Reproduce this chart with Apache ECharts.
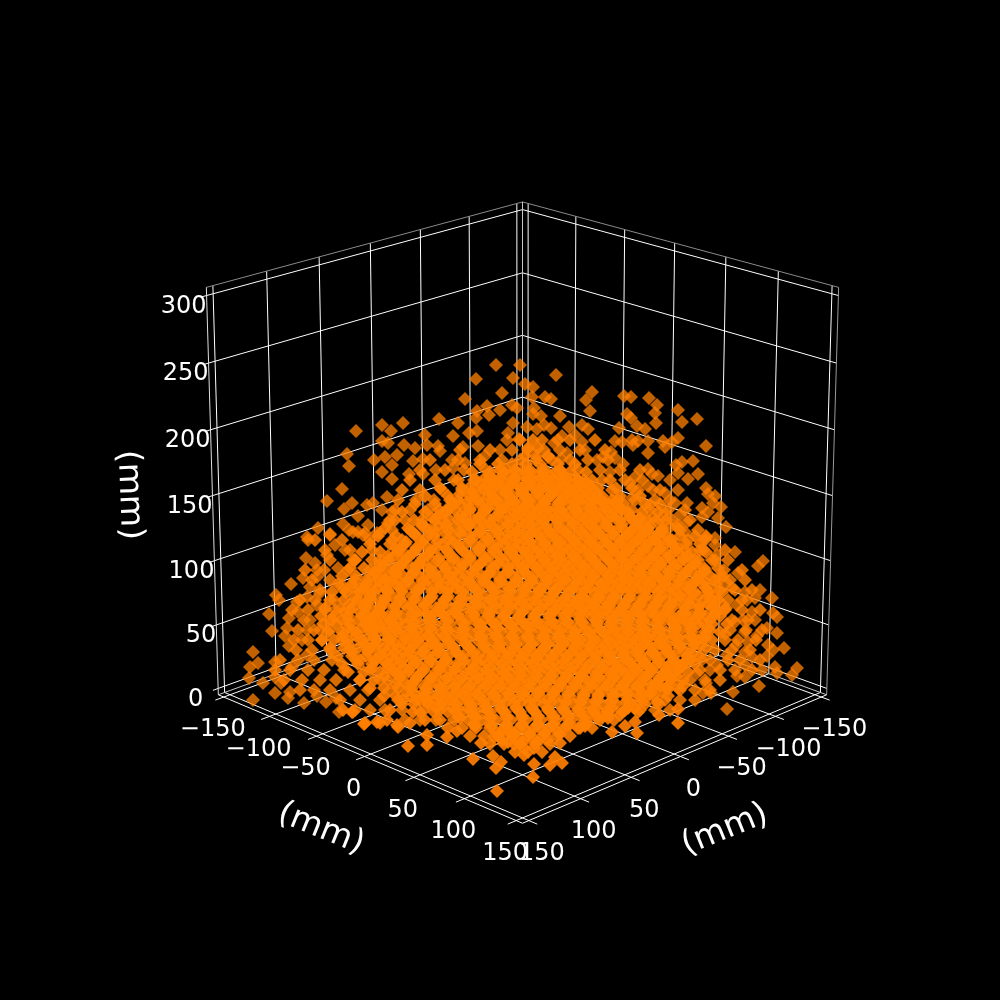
<!DOCTYPE html>
<html><head><meta charset="utf-8">
<style>html,body{margin:0;padding:0;background:#000}#c{width:1000px;height:1000px}</style>
<script src="https://cdn.jsdelivr.net/npm/echarts@6/dist/echarts.min.js"></script>
</head><body><div id="c"></div>
<script>
// Tick values (mm)
const horizontalTicks = [-150,-100,-50,0,50,100,150];
const heightTicks = [0,50,100,150,200,250,300];
const axisTitle = '(mm)';
// Points, in the view plane: [across, up] (mm, across = y - x)
const farPoints = [[-164,269],[-138,275],[-129,269],[-138,259],[-132,257],[-173,246],[-171,234],[-146,240],[-135,243],[-128,235],[-123,245],[-138,228],[-128,221],[-178,211],[-193,199],[-168,197],[-176,191],[-153,195],[-147,197],[-133,203],[-138,190],[-128,188],[-162,184],[-202,172],[-177,176],[-171,170],[-152,175],[-190,166],[-213,163],[-162,168],[-157,165],[-143,167],[-132,177],
[-24,335],[0,335],[-44,321],[-7,322],[36,325],[5,316],[13,313],[-18,307],[-55,301],[72,308],[66,300],[12,303],[25,303],[31,301],[70,289],[-33,294],[-43,289],[-20,290],[-8,295],[-3,292],[14,292],[-31,285],[-44,282],[13,286],[21,284],[40,284],[-81,281],[-117,277],[-62,277],[-7,277],[7,273],[17,271],[31,272],[49,273],[24,275],[62,275],[68,271],[-43,269],[-51,267],[-67,264],[-12,267],[-95,265],[-13,260],[-1,261],[42,264],[55,265],[34,257],[62,258],[-93,255],[-82,254],[-57,253],[-116,255],[-42,254],[-20,250],[-105,252],[47,247],[65,250],[-80,249],[-35,244],[41,241],[-68,240],[-107,239],[-97,241],[-84,230],[-111,226],[-97,226],[-67,232],[-55,237],[28,243],[77,240],
[104,304],[111,303],[129,302],[137,295],[135,287],[158,290],[107,286],[111,282],[162,278],[177,281],[136,277],[117,274],[125,271],[99,272],[95,259],[102,258],[112,260],[113,255],[118,259],[128,259],[158,262],[143,259],[145,253],[152,258],[186,254],[128,247],[91,248],[83,243],[95,242],[103,236],[162,238],[173,239],[156,235],[128,231],[132,226],[138,224],[178,226],[158,227],[168,221],[150,220],[115,223],[90,228],[110,217],[128,214],[186,212],[133,210],[158,210],[195,204],[188,206],[145,207],[167,197],[201,193],[155,197],[193,197],[182,192],[188,188],[182,183],[130,195],[145,187],[112,202],[160,185],[198,182],[167,178],[140,180],[158,175],[165,168],[206,173],[150,173],[186,164],[195,162],[140,163],[125,175],[133,182],
[-212,160],[-190,165],[-185,155],[-214,142],[-229,116],[-217,122],[-244,105],[-241,100],[-251,86],[-248,69],[-231,82],[-222,88],[-223,98],[-210,113],[-203,123],[-205,137],[-193,145],[-235,64],[-233,72],[-231,54],[-267,48],[-270,33],[-262,37],[-271,22],[-257,17],[-245,38],[-245,23],[-239,17],[-245,7],[-230,8],[-232,2],[-267,0],[-216,-3],[-203,4],[-194,-2],[-184,2],[-181,-12],[-167,-12],[-213,45],[-210,80],[-218,60],[-228,33],[-213,70],[-200,70],[-182,132],[-175,150],[-203,130],[-168,113],[-178,115],[-213,103],[-200,107],[-203,95],[-190,80],[-185,90],[-167,140],[-155,167],[-167,168],[-140,167],
[215,148],[243,139],[238,134],[218,127],[186,163],[195,155],[197,145],[183,150],[240,110],[252,102],[225,108],[235,102],[227,100],[217,95],[232,88],[253,87],[257,83],[215,78],[223,80],[235,80],[225,68],[237,64],[247,72],[257,67],[205,66],[228,58],[216,55],[248,55],[264,52],[253,50],[225,48],[232,43],[247,44],[277,32],[272,25],[255,33],[257,27],[225,35],[242,30],[217,24],[225,23],[239,14],[213,8],[207,-9],[186,17],[183,7],[191,7],[207,45],[200,98],[207,117],[212,112],[200,123],[177,27],[190,30],[197,35],[182,40]];
const nearPoints = [[-112,-46],[-93,-45],[-47,-59],[-23,-91],[-27,-56],[-19,-62],[-24,-68],[-6,-44],[-39,-43],[-26,-37],[-10,-33],[4,-55],[14,-64],[13,-77],[-73,-37],[-63,-31],[-93,-35],[-122,-27],[-156,-24],[-140,-23],[-168,-12],[-177,-10],[30,-65],[42,-63],[35,-57],[92,-32],[117,-33],[105,-26],[115,-22],[158,-23],[158,-9],[139,-15],[137,-2],[40,-43],[60,-28],[115,-8],[100,-15],[148,11],[163,14],[87,-15],[-155,-23],[-143,-22],[-130,-10],[-117,0],[-107,-12],[-123,-25],[-133,-20],[-110,-23]];
// Outer band of the cloud, estimated row by row
const bandUp = [260,250,240,230,220,210,200,190,180,170,160,150,140,130,120,110,100,90,80,70,60,50,40,30,20,10,0,-10,-20];
const bandAcross = [
[0,22,38,50,75],
[-60,-30,-8,8,24,40,60,85],
[-90,-62,-40,-18,0,16,32,50,68,88],
[-100,-75,-56,-34,-14,4,22,40,58,80,100,120],
[-110,-85,-66,-46,-26,-8,10,28,46,64,82,105,122],
[-118,-100,-78,-58,-36,-18,2,20,38,56,74,92,118,140],
[-122,-104,-86,-70,-48,-28,-10,8,26,44,62,80,98,115,135,150],
[-125,-110,-92,-74,-54,-36,-18,2,20,38,56,74,94,112,130,148,165],
[-130,-115,-98,-78,-58,-40,118,136,152,170],
[-128,-110,-90,-72,125,142,160,178],
[-205,-178,-150,-128,150,168,185],
[-195,-170,-148,-122,165,180,205],
[-190,-165,-140,-118,175,195,208],
[-215,-196,-172,-150,-126,185,204,222],
[-208,-190,-165,-140,-122,195,210,225],
[-200,-176,-155,-132,200,215,232],
[-220,-205,-186,-160,-140,208,222],
[-228,-212,-195,-170,-148,205,222,240],
[-216,-188,-172,-152,-130,212,228],
[-222,-206,-190,-168,-146,210,226,242],
[-226,-212,-198,-178,-156,-132,205,218,236],
[-224,-208,-190,-170,-152,195,212,230],
[-240,-222,-206,-188,-164,-146,190,208,220,240],
[-245,-230,-212,-196,-176,-150,180,200,215,232],
[-236,-218,-200,-184,-160,-140,170,185,200],
[-220,-206,-190,-170,-152,-130,160,175,190],
[-180,-160,-140,-122,-104,145,160,175],
[-165,-150,-135,-118,-96,120,135,150],
[-115,-100,-84]];
// Dense middle of the cloud, estimated row by row
const coreUp = [260,252,244,236,228,220,212,204,196,188,180,172,164,156,148,140,132,124,116,108,100,92,84,76,68,60,52,44,36,28,20,12,4,-4,-12,-20,-28,-36,-44,-52];
const coreAcross = [
[13],[8,18],[5,16,28],
[-40,-22,-8,6,20,38,55],
[-48,-30,-16,-3,10,23,36,50,66],
[-62,-44,-31,-19,-6,7,19,32,44,58,72,90],
[-80,-58,-37,-25,-12,1,13,26,38,50,63,78,96,112],
[-95,-72,-50,-32,-19,-7,6,19,31,44,56,69,82,100,120],
[-105,-85,-60,-40,-26,-13,0,13,25,38,50,62,75,88,104,125,140],
[-118,-95,-74,-52,-36,-20,-7,6,18,31,43,56,68,81,94,108,122,138],
[-125,-106,-85,-62,-46,-30,-14,-1,12,24,37,49,62,74,87,100,113,127,146],
[-135,-112,-94,-74,-56,-40,-26,-12,1,14,26,39,51,64,76,89,102,115,128,142,158],
[-142,-124,-104,-86,-68,-50,-35,-20,-6,7,20,32,45,57,70,82,95,108,120,133,146,160,175],
[-150,-130,-115,-96,-78,-62,-46,-30,-15,-1,12,25,38,50,63,75,88,101,113,126,139,152,166,180],
[-158,-140,-122,-106,-90,-72,-56,-40,-24,-9,5,18,31,43,56,69,81,94,107,119,132,145,158,172,186],
[-165,-148,-132,-115,-98,-82,-66,-50,-34,-18,-3,11,24,37,50,62,75,88,100,113,126,138,151,164,178,192],
[-170,-156,-140,-124,-108,-92,-75,-60,-44,-28,-12,3,17,30,43,56,68,81,94,106,119,132,144,157,170,184,198],
[-178,-164,-148,-132,-117,-101,-85,-70,-54,-38,-22,-7,8,23,36,49,62,74,87,100,112,125,138,150,163,176,190,203],
[-182,-168,-154,-138,-124,-110,-94,-79,-63,-48,-32,-16,-1,14,29,43,56,68,81,93,106,119,131,144,157,169,182,196],
[-188,-174,-160,-146,-132,-118,-103,-88,-73,-58,-42,-26,-10,5,20,35,49,62,75,87,100,112,125,138,150,163,175,188,202],
[-190,-176,-163,-149,-135,-120,-106,-91,-76,-61,-46,-30,-15,0,15,30,44,57,70,83,95,108,120,133,146,158,171,184,198],
[-195,-180,-168,-154,-140,-126,-112,-98,-84,-69,-54,-38,-23,-8,7,22,37,51,64,77,89,102,114,127,140,152,165,178,192,206],
[-199,-186,-172,-158,-146,-132,-118,-104,-90,-76,-62,-46,-31,-16,-1,14,29,44,58,71,83,96,108,121,134,146,159,172,186,200],
[-197,-183,-170,-155,-141,-127,-113,-99,-85,-70,-55,-40,-25,-10,5,20,35,50,64,77,90,102,115,127,140,153,165,178,192,207],
[-192,-178,-164,-150,-136,-122,-108,-94,-79,-64,-49,-34,-19,-4,11,26,41,55,69,83,96,108,121,133,146,159,172,185,200],
[-198,-186,-172,-158,-144,-130,-116,-102,-88,-73,-58,-43,-28,-13,2,17,32,47,61,75,89,102,115,127,140,152,165,178,192],
[-190,-176,-162,-150,-136,-122,-108,-94,-80,-66,-51,-36,-21,-6,9,24,39,54,68,82,95,108,121,134,146,159,172,186],
[-183,-168,-154,-140,-128,-114,-100,-86,-72,-57,-42,-27,-12,3,18,33,48,62,76,90,103,116,129,142,154,167,180],
[-178,-162,-148,-133,-120,-106,-92,-78,-63,-48,-33,-18,-3,12,27,42,56,70,84,98,111,124,137,150,163,175],
[-172,-156,-140,-126,-112,-98,-84,-70,-55,-40,-25,-10,5,20,35,50,64,78,92,105,118,131,144,156,168],
[-160,-146,-132,-118,-104,-90,-76,-61,-46,-31,-16,-1,14,29,44,58,72,86,100,113,126,139,151,163],
[-150,-136,-122,-108,-94,-80,-66,-52,-37,-22,-7,8,23,38,52,66,80,94,107,120,133,146,158],
[-136,-124,-110,-96,-82,-68,-54,-40,-25,-10,5,20,35,50,64,78,92,106,120,134,148],
[-118,-106,-92,-78,-64,-50,-36,-21,-6,9,24,39,54,68,82,96,110,125,139],
[-100,-86,-72,-58,-44,-30,-15,0,15,30,45,60,74,88,102,118],
[-95,-80,-66,-52,-38,-24,-9,6,21,36,51,66,80,94],
[-72,-58,-44,-30,-16,-1,14,29,44,58,72],
[-50,-36,-22,-8,7,22,37,50],
[-30,-16,0,15,30],
[-5,8,22]];
const fillUp = [224,216,208,200,192,184,176,168,160,152,144,136,128,120,112,104,96,88,80,72,64,56,48,40,32,24,16,8,0,-8,-16,-24,-32,-40,-48];
const fillAcross = [
[-30,-12,4,18,31,44],
[-40,-24,-9,7,24,38,51,66],
[-48,-30,-14,2,19,34,50,68],
[-62,-42,-24,-8,9,26,42,58,74,92],
[-70,-50,-32,-14,3,20,36,53,69,85,100],
[-82,-60,-40,-22,-4,12,28,44,60,76,92,110],
[-98,-74,-50,-30,-12,5,21,37,53,70,86,102,118],
[-108,-84,-60,-40,-22,-4,13,29,45,62,78,94,110,126,142],
[-118,-96,-72,-50,-32,-13,4,21,37,54,70,86,102,118,134,152],
[-124,-104,-84,-60,-40,-22,-5,12,28,44,60,76,92,108,124,140,158],
[-132,-112,-92,-70,-50,-30,-12,5,21,37,53,70,86,102,118,134,150,168],
[-140,-118,-100,-78,-58,-40,-22,-4,12,28,44,60,76,92,108,124,140,158,176],
[-146,-126,-106,-86,-66,-48,-30,-12,5,21,37,53,69,85,101,117,133,149,166,184],
[-154,-134,-112,-92,-72,-56,-38,-20,-3,13,29,45,61,77,93,109,125,141,158,176],
[-160,-142,-120,-100,-80,-64,-46,-28,-10,6,22,38,54,70,86,102,118,134,150,168,186],
[-166,-150,-128,-108,-88,-72,-54,-36,-18,-2,14,30,46,62,78,94,110,126,142,160,178,194],
[-170,-154,-136,-116,-96,-78,-60,-42,-24,-8,8,24,40,56,72,88,104,120,136,152,170,188],
[-176,-160,-142,-124,-104,-84,-66,-48,-30,-14,2,18,34,50,66,82,98,114,130,146,164,180,196],
[-178,-162,-148,-130,-110,-90,-72,-54,-36,-20,-4,12,28,44,60,76,92,108,124,140,158,174,190],
[-172,-158,-144,-126,-108,-90,-74,-56,-38,-22,-6,10,26,42,58,74,90,106,122,138,156,172,188],
[-178,-164,-146,-128,-110,-92,-76,-58,-40,-24,-8,8,24,40,56,72,88,104,120,136,154,170,184],
[-172,-156,-142,-124,-106,-88,-72,-54,-36,-20,-4,12,28,44,60,76,92,108,124,140,158,174],
[-168,-152,-134,-116,-98,-82,-64,-46,-28,-12,4,20,36,52,68,84,100,116,132,148,164],
[-160,-144,-126,-108,-90,-74,-56,-38,-22,-6,10,26,42,58,74,90,106,122,138,154,170],
[-148,-132,-116,-98,-80,-64,-46,-30,-14,2,18,34,50,66,82,98,114,130,146,160],
[-136,-120,-102,-84,-68,-50,-34,-18,-2,14,30,46,62,78,94,110,126,142,156],
[-124,-108,-90,-72,-56,-40,-24,-8,8,24,40,56,72,88,104,120,136,150],
[-114,-96,-78,-62,-46,-30,-14,2,18,34,50,66,82,98,114,130,142],
[-100,-84,-68,-52,-36,-20,-4,12,28,44,60,76,92,108,124],
[-84,-68,-52,-36,-20,-4,12,28,44,60,76,92,108],
[-62,-46,-30,-14,2,18,34,50,66,82],
[-46,-30,-14,2,18,34,50,66],
[-24,-8,8,24,38],
[-18,-2,14,28],
[4,14]];
const innerUp = [230,222,214,206,198,190,182,174,166,158,150,142,134,126,118,110,102,94,86,78,70,62,54,46,38,30,22,14,6,-2,-10,-18,-26,-34,-42];
const innerAcross = [
[-20,-5,10,25,40],
[-35,-20,-5,11,26,41,56],
[-49,-33,-17,-2,13,28,43,58,70],
[-60,-44,-29,-13,2,17,32,47,62,77],
[-68,-53,-37,-22,-6,9,24,39,54,69,84,95],
[-81,-65,-50,-34,-19,-3,12,27,42,57,72,87,102],
[-88,-72,-57,-41,-26,-10,5,20,35,50,65,80,95,110,120],
[-98,-82,-66,-51,-35,-20,-4,11,26,41,56,71,86,101,116,130],
[-105,-90,-74,-59,-43,-28,-12,3,18,33,48,63,78,93,108,123,138],
[-114,-98,-83,-67,-52,-36,-21,-5,10,25,40,55,70,85,100,115,130,148],
[-120,-104,-89,-73,-58,-42,-27,-11,4,19,34,49,64,79,94,109,124,139,156],
[-128,-112,-97,-81,-66,-50,-35,-19,-4,11,26,41,56,71,86,101,116,131,146,164],
[-135,-119,-104,-88,-73,-57,-42,-26,-11,4,19,34,49,64,79,94,109,124,139,154,172],
[-140,-124,-108,-93,-77,-62,-46,-31,-15,0,15,30,45,60,75,90,105,120,135,150,165,180],
[-145,-129,-113,-98,-82,-67,-51,-36,-20,-5,10,25,40,55,70,85,100,115,130,145,160,175,185],
[-150,-134,-118,-103,-87,-72,-56,-41,-25,-10,5,20,35,50,65,80,95,110,125,140,155,170,188],
[-150,-135,-120,-104,-89,-73,-58,-42,-27,-11,4,19,34,49,64,79,94,109,124,139,154,169,190],
[-156,-140,-125,-109,-94,-78,-63,-47,-32,-16,-1,14,29,44,59,74,89,104,119,134,149,164,179,193],
[-155,-139,-124,-108,-93,-77,-62,-46,-31,-15,0,15,30,45,60,75,90,105,120,135,150,165,180,195],
[-152,-137,-121,-106,-90,-75,-59,-44,-28,-13,2,17,32,47,62,77,92,107,122,137,152,167,182],
[-150,-134,-119,-103,-88,-72,-57,-41,-26,-10,5,20,35,50,65,80,95,110,125,140,155,170,190],
[-146,-131,-115,-100,-84,-69,-53,-38,-22,-7,8,23,38,53,68,83,98,113,128,143,158,173,185],
[-145,-129,-114,-98,-83,-67,-52,-36,-21,-5,10,25,40,55,70,85,100,115,130,145,160,180],
[-140,-124,-109,-93,-78,-62,-47,-31,-16,0,15,30,45,60,75,90,105,120,135,150,172],
[-135,-119,-104,-88,-73,-57,-42,-26,-11,4,19,34,49,64,79,94,109,124,139,154,165],
[-127,-111,-96,-80,-65,-49,-34,-18,-3,12,27,42,57,72,87,102,117,132,147,158],
[-120,-104,-89,-73,-58,-42,-27,-11,4,19,34,49,64,79,94,109,124,139,150],
[-112,-96,-81,-65,-50,-34,-19,-3,12,27,42,57,72,87,102,117,132,140],
[-105,-89,-74,-58,-43,-27,-12,3,18,33,48,63,78,93,108,123,130],
[-92,-76,-61,-45,-30,-14,1,16,31,46,61,76,91,106,118],
[-80,-64,-49,-33,-18,-2,13,28,43,58,73,88,105],
[-60,-44,-29,-13,2,17,32,47,62,77,88],
[-45,-29,-14,2,17,32,47,65],
[-20,-5,10,25,40],
[-12,3,18]];
// View of the box (as matplotlib's 3D axes)
const elevation = 20, azimuth = 45, viewDistance = 10;
const horizLimit = 156, heightMin = -5, heightMax = 306;
const scaleView = 3835, centerAcross = 2.5, centerUp = 205;
const zeroLabelGap = -15;

const B = [1.1433, 1.1433, 1.13];
const el = elevation*Math.PI/180, az = azimuth*Math.PI/180;
const n = [Math.cos(el)*Math.cos(az), Math.cos(el)*Math.sin(az), Math.sin(el)];
const uv = [-Math.sin(az), Math.cos(az), 0];
const vv = [n[1]*uv[2]-n[2]*uv[1], n[2]*uv[0]-n[0]*uv[2], n[0]*uv[1]-n[1]*uv[0]];
const dot = (a,b)=>a[0]*b[0]+a[1]*b[1]+a[2]*b[2];
function project(x,y,z){
  const p = [(x+horizLimit)/(2*horizLimit)*B[0]-B[0]/2, (y+horizLimit)/(2*horizLimit)*B[1]-B[1]/2, (z-heightMin)/(heightMax-heightMin)*B[2]-B[2]/2];
  const r = [p[0]-viewDistance*n[0], p[1]-viewDistance*n[1], p[2]-viewDistance*n[2]];
  const d = -dot(r,n);
  return [centerAcross + scaleView*dot(r,uv)/d, centerUp + scaleView*dot(r,vv)/d];
}
const L = horizLimit, Z0 = heightMin, Z1 = heightMax;
const polyline = (pts,color,w,z)=>({type:'line',data:pts.map(p=>project(...p)),symbol:'none',silent:true,animation:false,clip:false,z:z||1,
  lineStyle:{color,width:w}});
const series = [];
// grid
horizontalTicks.forEach(t=>{
  series.push(polyline([[L+8,t,Z0],[-L,t,Z0],[-L,t,Z1]],'#ffffff',1));      // y grid: floor then right wall
  series.push(polyline([[t,L+8,Z0],[t,-L,Z0],[t,-L,Z1]],'#ffffff',1));      // x grid: floor then left wall
});
heightTicks.forEach(t=>series.push(polyline([[L+5,-L,t],[-L,-L,t],[-L,L,t]],'#ffffff',1)));
// pane edges and axis lines
series.push(polyline([[L,-L,Z1],[-L,-L,Z1],[-L,L,Z1]],'#8a8a8a',1));
series.push(polyline([[-L,-L,Z0],[-L,-L,Z1]],'#c8c8c8',1));
series.push(polyline([[L,-L,Z0],[L,-L,Z1]],'#e0e0e0',1));
series.push(polyline([[-L,L,Z0],[-L,L,Z1]],'#9a9a9a',1));
series.push(polyline([[L,-L,Z0],[L,L,Z0],[-L,L,Z0]],'#ffffff',1));
series.push(polyline([[L,-L,Z0],[-L,-L,Z0],[-L,L,Z0]],'#c8c8c8',1));
// points
const rowsToPoints = list=>{const out=[];list.forEach(([ups,rows])=>ups.forEach((u,i)=>rows[i].forEach(a=>out.push([a,u]))));return out;};
const coreData = rowsToPoints([[coreUp,coreAcross],[fillUp,fillAcross],[innerUp,innerAcross]]);
const bandData = rowsToPoints([[bandUp,bandAcross]]);
const pts = (data,op,z)=>({type:'scatter',data,symbol:'diamond',symbolSize:14,silent:true,animation:false,progressive:0,z,
  itemStyle:{color:'#ff7f00',opacity:op}});
series.push(pts(farPoints,0.76,5), pts(bandData,0.84,5), pts(coreData,0.9,6), pts(nearPoints,0.92,7));
// text
const text = (items)=>({type:'scatter',symbolSize:1,silent:true,animation:false,z:10,clip:false,
  itemStyle:{color:'rgba(0,0,0,0)',opacity:1},
  data:items.map(o=>({value:o.at,label:{show:true,position:'inside',formatter:o.t,rotate:o.rot||0,color:'#fff',opacity:1,
    fontFamily:'DejaVu Sans',fontSize:o.size,align:o.align||'center',verticalAlign:'middle'}}))});
const fmt = v=>String(v).replace('-','\u2212');
const tickItems = [];
horizontalTicks.forEach(t=>{
  const a = project(L,t,Z0), b = project(t,L,Z0);
  tickItems.push({at:[a[0]-11,a[1]-33],t:fmt(t),size:24});
  tickItems.push({at:[b[0]+13,b[1]-33],t:fmt(t),size:24});
});
heightTicks.forEach(t=>{
  const a = project(L,-L,t);
  tickItems.push({at:[a[0]+(t===0?zeroLabelGap:0),a[1]-11],t:fmt(t),size:24,align:'right'});
});
tickItems.push({at:[-199,-129],t:axisTitle,size:33,rot:-22});
tickItems.push({at:[205,-130],t:axisTitle,size:33,rot:22});
tickItems.push({at:[-391,205],t:axisTitle,size:33,rot:-88});
series.push(text(tickItems));
const chart = echarts.init(document.getElementById('c'),null,{renderer:'canvas',width:1000,height:1000});
chart.setOption({backgroundColor:'#000',animation:false,tooltip:{show:false},legend:{show:false},
  grid:{left:0,right:0,top:0,bottom:0},
  xAxis:{type:'value',min:-520,max:480,show:false},
  yAxis:{type:'value',min:-300,max:700,show:false},
  series});
</script></body></html>
